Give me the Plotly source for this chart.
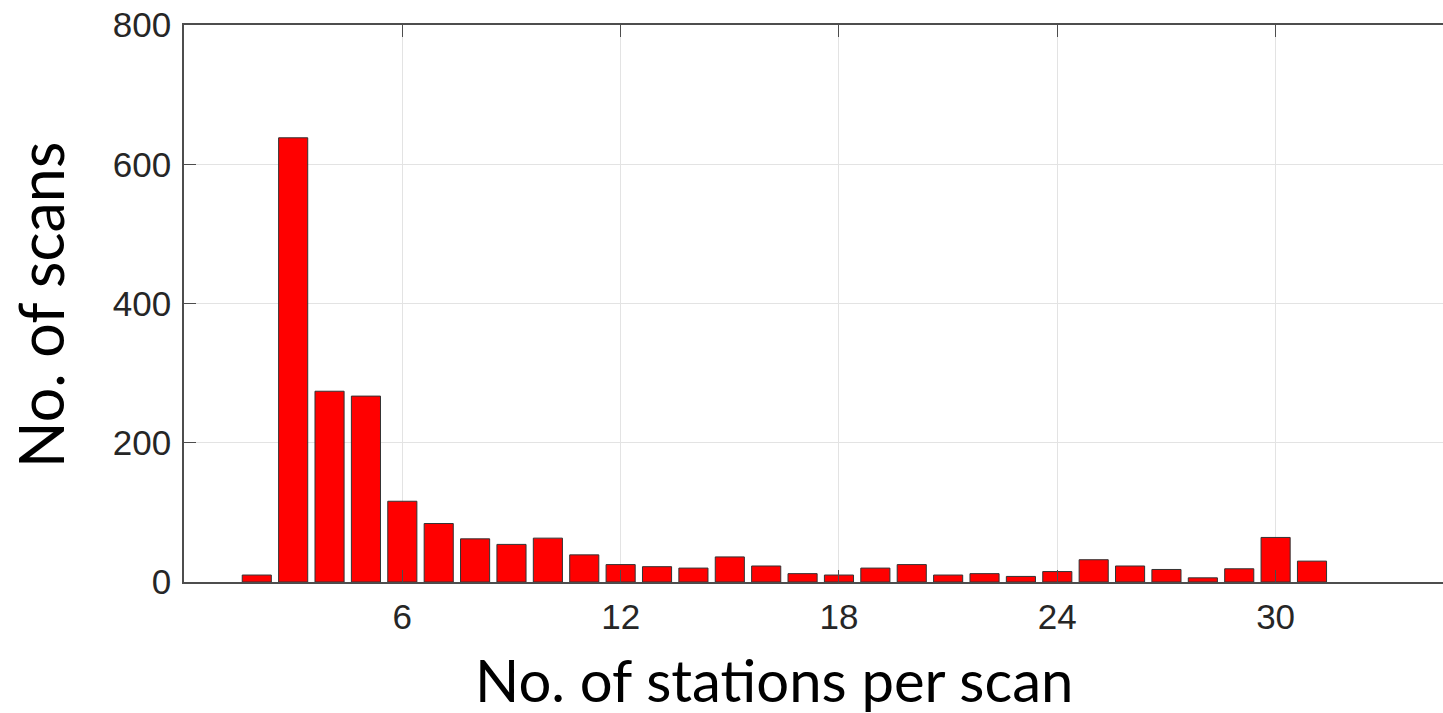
import plotly.graph_objects as go

stations = list(range(2, 32))
scans = [10, 638, 274, 267, 116, 84, 62, 54, 63, 39, 25, 22, 20, 36, 23, 12, 10, 20, 25, 10,
         12, 8, 15, 32, 23, 18, 6, 19, 64, 30]
x_ticks = [6, 12, 18, 24, 30]
y_ticks = [0, 200, 400, 600, 800]

fig = go.Figure(go.Bar(
    x=stations, y=scans, width=0.8,
    marker=dict(color="#ff0000", line=dict(color="#333333", width=1)),
))

axis_font = dict(family="Liberation Sans, Arial, sans-serif", size=35, color="#262626")
fig.update_layout(
    width=1443, height=713,
    margin=dict(l=184, r=0, t=25, b=131),
    paper_bgcolor="white", plot_bgcolor="white",
    showlegend=False, bargap=0.2,
    xaxis=dict(
        range=[0, 34.6], tickvals=x_ticks, ticks="inside", ticklen=12, tickcolor="#4d4d4d",
        showline=True, linecolor="#4d4d4d", linewidth=1.5, mirror="ticks",
        showgrid=True, gridcolor="#e3e3e3", gridwidth=1, zeroline=False,
        tickfont=axis_font, ticklabelstandoff=3,
    ),
    yaxis=dict(
        range=[0, 800], tickvals=y_ticks, ticks="inside", ticklen=12, tickcolor="#4d4d4d",
        showline=True, linecolor="#4d4d4d", linewidth=1.5, mirror=False,
        showgrid=True, gridcolor="#e3e3e3", gridwidth=1, zeroline=False,
        tickfont=axis_font, ticklabelstandoff=4,
    ),
    annotations=[
        dict(text="No. of stations per scan", x=774, y=713 - 679, xref="paper", yref="paper",
             showarrow=False, font=dict(family="Lato, Open Sans, sans-serif", size=58, color="black"),
             xanchor="center", yanchor="middle"),
        dict(text="No. of scans", x=40, y=713 - 305, xref="paper", yref="paper",
             showarrow=False, font=dict(family="Lato, Open Sans, sans-serif", size=61, color="black"),
             textangle=-90, xanchor="center", yanchor="middle"),
    ],
)
# convert pixel positions to paper coordinates
pw, ph = 1443 - 184, 713 - 25 - 131
for a in fig.layout.annotations:
    a.x = (a.x - 184) / pw
    a.y = (a.y - 131) / ph

fig.write_html("out.html")
